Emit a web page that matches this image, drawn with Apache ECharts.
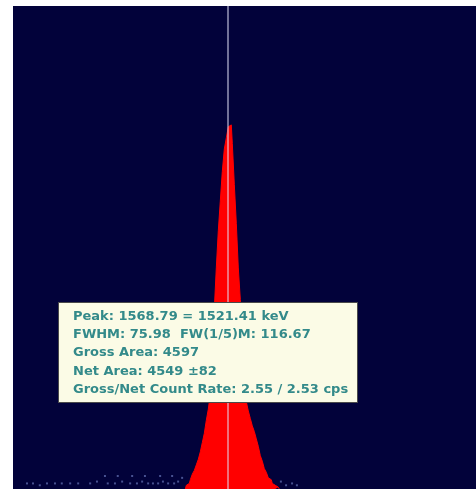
<!DOCTYPE html>
<html>
<head>
<meta charset="utf-8">
<script src="https://cdn.jsdelivr.net/npm/echarts@6/dist/echarts.min.js"></script>
<style>
  html, body { margin: 0; padding: 0; background: #ffffff; }
  #chart { width: 476px; height: 489px; }
</style>
</head>
<body>
<div id="chart"></div>
<script>
// ROI channels (bin centres) and their counts
var roiChannels = [1462, 1467, 1472, 1477, 1482, 1487, 1492, 1497, 1502, 1507,
                   1512, 1517, 1522, 1527, 1532, 1537, 1542, 1547, 1552, 1557,
                   1562, 1567, 1572, 1577, 1582, 1587, 1592, 1597, 1602, 1607,
                   1612, 1617, 1622, 1627, 1632, 1637, 1642, 1647, 1652, 1657,
                   1662, 1667, 1672, 1677, 1682, 1687, 1692, 1697];
var roiCounts   = [0, 2, 3, 5, 8, 10, 13, 16, 20, 25,
                   30, 37, 43, 51, 65, 97, 119, 139, 155, 171,
                   183, 189, 195, 196, 186, 164, 143, 119, 102, 75,
                   54, 47, 42, 38, 34, 31, 27, 23, 18, 15,
                   11, 9, 6, 5, 3, 2, 1, 0];

// Background channels outside the ROI, drawn as points
var bgChannels = [1066, 1081, 1098, 1116, 1136, 1153, 1174, 1194, 1224, 1241,
                  1268, 1286, 1304, 1324, 1341, 1354, 1369, 1381, 1394, 1406,
                  1419, 1434, 1444, 1454, 1261, 1293, 1329, 1361, 1399, 1429,
                  1701, 1714, 1729, 1741];
var bgCounts   = [3, 3, 2, 3, 3, 3, 3, 3, 3, 4,
                  3, 3, 4, 3, 3, 4, 3, 3, 3, 4,
                  3, 3, 4, 6, 7, 7, 7, 7, 7, 7,
                  4, 2, 3, 2];

// Peak marker position (channel)
var peakChannel = 1568.79;

// Peak report lines
var reportLines = [
  'Peak: 1568.79 = 1521.41 keV',
  'FWHM: 75.98  FW(1/5)M: 116.67',
  'Gross Area: 4597',
  'Net Area: 4549 \u00b182',
  'Gross/Net Count Rate: 2.55 / 2.53 cps'
];

var chart = echarts.init(document.getElementById('chart'), null, { renderer: 'canvas' });

var roiData = roiChannels.map(function (c, i) { return [c, roiCounts[i]]; });
var bgData = bgChannels.map(function (c, i) { return [c, bgCounts[i]]; });

var boxX = 58, boxY = 302, boxW = 299, boxH = 100;
var lineStep = 18.3;
var textEls = reportLines.map(function (t, i) {
  return {
    type: 'text',
    left: 73,
    top: 310 + i * lineStep,
    z: 101,
    style: {
      text: t,
      fill: '#338a8a',
      font: 'bold 13px "DejaVu Sans", sans-serif'
    }
  };
});

chart.setOption({
  backgroundColor: '#ffffff',
  animation: false,
  grid: { left: 13, right: 0, top: 6, bottom: 0, show: true, backgroundColor: '#02023a', borderWidth: 0 },
  xAxis: {
    type: 'value', min: 1031, max: 2189,
    show: false, splitLine: { show: false }
  },
  yAxis: {
    type: 'value', min: 0, max: 260,
    show: false, splitLine: { show: false }
  },
  series: [
    {
      type: 'line',
      data: roiData,
      step: 'middle',
      symbol: 'none',
      lineStyle: { color: '#ff0000', width: 1 },
      areaStyle: { color: '#ff0000', opacity: 1 },
      markLine: {
        silent: true,
        symbol: 'none',
        label: { show: false },
        lineStyle: { color: 'rgba(225,225,245,0.5)', width: 2, type: 'solid' },
        data: [{ xAxis: peakChannel }]
      }
    },
    {
      type: 'scatter',
      data: bgData,
      symbol: 'rect',
      symbolSize: [2, 2],
      itemStyle: { color: '#5a66a8' }
    }
  ],
  graphic: [
    {
      type: 'rect',
      z: 100,
      shape: { x: boxX + 0.5, y: boxY + 0.5, width: boxW, height: boxH },
      style: { fill: '#fbfbe6', stroke: '#4a4a4a', lineWidth: 1 }
    }
  ].concat(textEls)
});
</script>
</body>
</html>
